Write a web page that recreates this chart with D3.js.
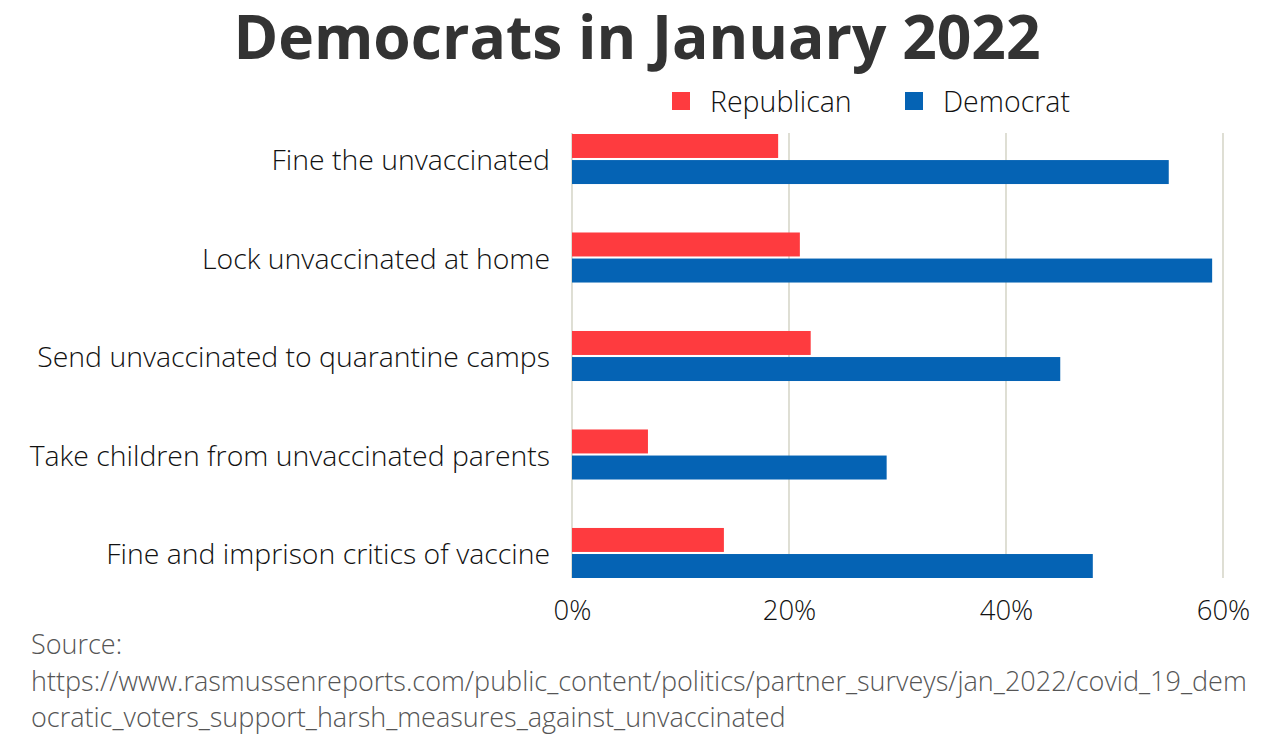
<!DOCTYPE html>
<html>
<head>
<meta charset="utf-8">
<script src="https://cdn.jsdelivr.net/npm/d3@7"></script>
<style>
  body { margin: 0; background: #fff; }
  text { font-family: "Open Sans", sans-serif; }
</style>
</head>
<body>
<div id="chart"></div>
<script>
var categories = ["Fine the unvaccinated", "Lock unvaccinated at home", "Send unvaccinated to quarantine camps",
                  "Take children from unvaccinated parents", "Fine and imprison critics of vaccine"];
var series = ["Republican", "Democrat"];
var republican = [19, 21, 22, 7, 14];
var democrat = [55, 59, 45, 29, 48];
var xTicks = [0, 20, 40, 60];
var colors = ["#fe3b3f", "#0563b4"];
var sourceLines = ["Source:",
  "https://www.rasmussenreports.com/public_content/politics/partner_surveys/jan_2022/covid_19_dem",
  "ocratic_voters_support_harsh_measures_against_unvaccinated"];

var width = 1280, height = 751;

var svg = d3.select("#chart")
  .append("svg")
    .attr("width", width)
    .attr("height", height);

var x = d3.scaleLinear()
  .domain([0, 60])
  .range([572, 1223]);

var y = d3.scaleBand()
  .domain(categories)
  .range([134, 578])
  .paddingInner(0.492)
  .paddingOuter(0);

var ySub = d3.scaleBand()
  .domain(series)
  .range([0, y.bandwidth()])
  .paddingInner(0.08);

// gridlines
svg.append("g")
  .selectAll("line")
  .data(xTicks)
  .enter()
  .append("line")
    .attr("x1", function(d) { return x(d); })
    .attr("x2", function(d) { return x(d); })
    .attr("y1", 133)
    .attr("y2", 578)
    .attr("stroke", "#c9c9b8")
    .attr("stroke-width", 1.2);

// x axis labels
var xAxis = svg.append("g")
  .attr("transform", "translate(0,578)")
  .call(d3.axisBottom(x).tickValues(xTicks).tickSize(0).tickPadding(22)
    .tickFormat(function(d) { return d + "%"; }));
xAxis.select(".domain").remove();
xAxis.selectAll("text")
  .attr("font-family", "Open Sans, sans-serif")
  .attr("font-weight", 300)
  .attr("font-size", 27.5)
  .attr("fill", "#111");

// y axis labels
var yAxis = svg.append("g")
  .attr("transform", "translate(550,0)")
  .call(d3.axisLeft(y).tickSize(0).tickPadding(0));
yAxis.select(".domain").remove();
yAxis.selectAll("text")
  .attr("font-family", "Open Sans, sans-serif")
  .attr("font-weight", 300)
  .attr("font-size", 28.4)
  .attr("dy", "0.4em")
  .attr("fill", "#111");

// bars
var rows = categories.map(function(c, i) {
  return {cat: c, values: [republican[i], democrat[i]]};
});

var groups = svg.append("g")
  .selectAll("g")
  .data(rows)
  .enter()
  .append("g")
    .attr("transform", function(d) { return "translate(0," + y(d.cat) + ")"; });

groups.selectAll("rect")
  .data(function(d) { return d.values.map(function(v, j) { return {s: series[j], v: v, j: j}; }); })
  .enter()
  .append("rect")
    .attr("x", x(0))
    .attr("y", function(d) { return ySub(d.s); })
    .attr("width", function(d) { return x(d.v) - x(0); })
    .attr("height", ySub.bandwidth())
    .attr("fill", function(d) { return colors[d.j]; });

// title
svg.append("text")
  .attr("x", 637)
  .attr("y", 59)
  .attr("text-anchor", "middle")
  .attr("font-family", "Roboto, sans-serif")
  .attr("font-weight", 700)
  .attr("font-size", 60.5)
  .attr("fill", "#333")
  .text("Democrats in January 2022");

// legend
var legendX = [672, 905];
var legend = svg.append("g")
  .selectAll("g")
  .data(series)
  .enter()
  .append("g")
    .attr("transform", function(d, i) { return "translate(" + legendX[i] + ",92)"; });
legend.append("rect")
  .attr("width", 18)
  .attr("height", 18)
  .attr("fill", function(d, i) { return colors[i]; });
legend.append("text")
  .attr("x", 38)
  .attr("y", 20)
  .attr("font-weight", 300)
  .attr("font-size", 28.5)
  .attr("fill", "#111")
  .text(function(d) { return d; });

// source
svg.append("g")
  .selectAll("text")
  .data(sourceLines)
  .enter()
  .append("text")
    .attr("x", 31)
    .attr("y", function(d, i) { return 654 + i * 36.5; })
    .attr("font-weight", 300)
    .attr("font-size", 27)
    .attr("fill", "#555")
    .text(function(d) { return d; });
</script>
</body>
</html>
